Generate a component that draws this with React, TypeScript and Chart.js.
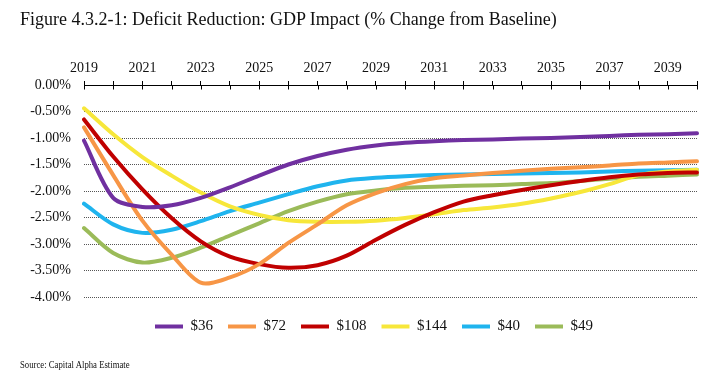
import React, { useEffect, useRef } from 'react';
import { Chart, registerables } from 'chart.js';

Chart.register(...registerables);

const years = ['2019', '2020', '2021', '2022', '2023', '2024', '2025', '2026', '2027', '2028', '2029', '2030', '2031', '2032', '2033', '2034', '2035', '2036', '2037', '2038', '2039', '2040'];

const seriesNames = ['$36', '$72', '$108', '$144', '$40', '$49'];
const seriesColors = ['#7030A0', '#F79646', '#C00000', '#F7E73A', '#1FB4EE', '#9BBB59'];

const s36 = [-1.05, -2.13, -2.30, -2.27, -2.13, -1.93, -1.71, -1.50, -1.34, -1.22, -1.14, -1.09, -1.06, -1.04, -1.03, -1.01, -1.00, -0.98, -0.96, -0.94, -0.93, -0.91];
const s72 = [-0.80, -1.70, -2.56, -3.20, -3.73, -3.63, -3.38, -2.98, -2.63, -2.27, -2.04, -1.87, -1.76, -1.71, -1.66, -1.62, -1.58, -1.55, -1.52, -1.48, -1.46, -1.44];
const s108 = [-0.65, -1.35, -1.97, -2.51, -2.95, -3.24, -3.38, -3.45, -3.40, -3.22, -2.92, -2.64, -2.40, -2.20, -2.08, -1.98, -1.89, -1.81, -1.74, -1.69, -1.66, -1.65];
const s144 = [-0.44, -0.93, -1.36, -1.71, -2.03, -2.29, -2.45, -2.55, -2.58, -2.58, -2.56, -2.51, -2.44, -2.36, -2.31, -2.24, -2.14, -2.02, -1.87, -1.70, -1.63, -1.60];
const s40 = [-2.24, -2.63, -2.79, -2.73, -2.57, -2.38, -2.22, -2.06, -1.91, -1.80, -1.75, -1.72, -1.70, -1.69, -1.68, -1.67, -1.66, -1.65, -1.63, -1.62, -1.61, -1.60];
const s49 = [-2.70, -3.17, -3.35, -3.26, -3.07, -2.84, -2.61, -2.38, -2.20, -2.06, -1.99, -1.94, -1.92, -1.90, -1.89, -1.87, -1.85, -1.81, -1.77, -1.73, -1.71, -1.69];

const seriesValues = [s36, s72, s108, s144, s40, s49];

const yMin = -4;
const yMax = 0;
const yStep = 0.5;

const titleText = 'Figure 4.3.2-1: Deficit Reduction: GDP Impact (% Change from Baseline)';
const sourceText = 'Source: Capital Alpha Estimate';

const FONT = '"Liberation Serif", "Times New Roman", serif';

const innerTicks = {
  id: 'innerTicks',
  afterDraw(chart: any) {
    const xs = chart.scales.x;
    const ctx = chart.ctx;
    ctx.save();
    ctx.strokeStyle = '#000';
    ctx.lineWidth = 1;
    ctx.beginPath();
    for (let i = 0; i < xs.ticks.length; i++) {
      const x = Math.round(xs.getPixelForTick(i)) + 0.5;
      ctx.moveTo(x, xs.bottom);
      ctx.lineTo(x, xs.bottom + 4.5);
    }
    ctx.stroke();
    ctx.restore();
  },
};

const hiddenAxis = (position: string, fit: (s: any) => void) => ({
  type: 'linear',
  position,
  display: true,
  grid: { display: false, drawTicks: false },
  border: { display: false },
  ticks: { display: false },
  afterFit: fit,
});

export default function App() {
  const ref = useRef<HTMLCanvasElement | null>(null);

  useEffect(() => {
    if (!ref.current) return;
    const chart = new Chart(ref.current, {
      type: 'line',
      data: {
        labels: years,
        datasets: seriesNames.map((name, i) => ({
          label: name,
          data: seriesValues[i],
          borderColor: seriesColors[i],
          backgroundColor: seriesColors[i],
          borderWidth: 4,
          pointRadius: 0,
          pointHoverRadius: 0,
          tension: 0.3,
          fill: false,
          borderCapStyle: 'round',
          pointStyle: 'line',
          xAxisID: 'x',
          yAxisID: 'y',
        })),
      },
      options: {
        responsive: false,
        animation: false,
        devicePixelRatio: 1,
        layout: { padding: { left: 20, right: 0, top: 50, bottom: 40 } },
        plugins: {
          title: { display: false },
          tooltip: { enabled: false },
          legend: {
            display: true,
            position: 'bottom',
            labels: {
              usePointStyle: true,
              pointStyle: 'line',
              pointStyleWidth: 28,
              padding: 15,
              color: '#111',
              font: { family: FONT, size: 15 },
            },
          },
        },
        scales: {
          x: {
            type: 'category',
            position: 'top',
            offset: false,
            grid: {
              display: true,
              drawOnChartArea: false,
              drawTicks: true,
              tickLength: 4,
              color: '#000',
            },
            border: { display: true, color: '#000', width: 1 },
            ticks: {
              autoSkip: false,
              maxRotation: 0,
              padding: 4,
              color: '#111',
              font: { family: FONT, size: 14 },
              callback: (_v: any, i: number) => (i % 2 === 0 ? years[i] : ''),
            },
            afterFit: (s: any) => { s.height = 35; },
          },
          y: {
            type: 'linear',
            position: 'left',
            min: yMin,
            max: yMax,
            ticks: {
              stepSize: yStep,
              padding: 13,
              color: '#111',
              font: { family: FONT, size: 14 },
              callback: (v: any) => Number(v).toFixed(2) + '%',
            },
            grid: {
              drawTicks: false,
              color: (c: any) => (c.tick && c.tick.value === 0 ? 'rgba(0,0,0,0)' : '#555'),
              lineWidth: 1,
            },
            border: { display: false, dash: [1, 1] },
            afterFit: (s: any) => { s.width = 64; },
          },
          yRight: hiddenAxis('right', (s: any) => { s.width = 31; }),
          xBottom: hiddenAxis('bottom', (s: any) => { s.height = 7; }),
        },
      },
      plugins: [innerTicks],
    } as any);
    return () => chart.destroy();
  }, []);

  return (
    <div style={{ position: 'absolute', left: 0, top: 0, width: 728, height: 384, background: '#fff' }}>
      <canvas ref={ref} width={728} height={384} style={{ position: 'absolute', left: 0, top: 0, width: 728, height: 384 }} />
      <div style={{ position: 'absolute', left: 20, top: 9, fontFamily: FONT, fontSize: 18, color: '#111', whiteSpace: 'nowrap' }}>
        {titleText}
      </div>
      <div style={{ position: 'absolute', left: 20, top: 359, fontFamily: FONT, fontSize: 10.5, color: '#111', whiteSpace: 'nowrap', transform: 'scaleX(0.83)', transformOrigin: 'left top' }}>
        {sourceText}
      </div>
    </div>
  );
}
